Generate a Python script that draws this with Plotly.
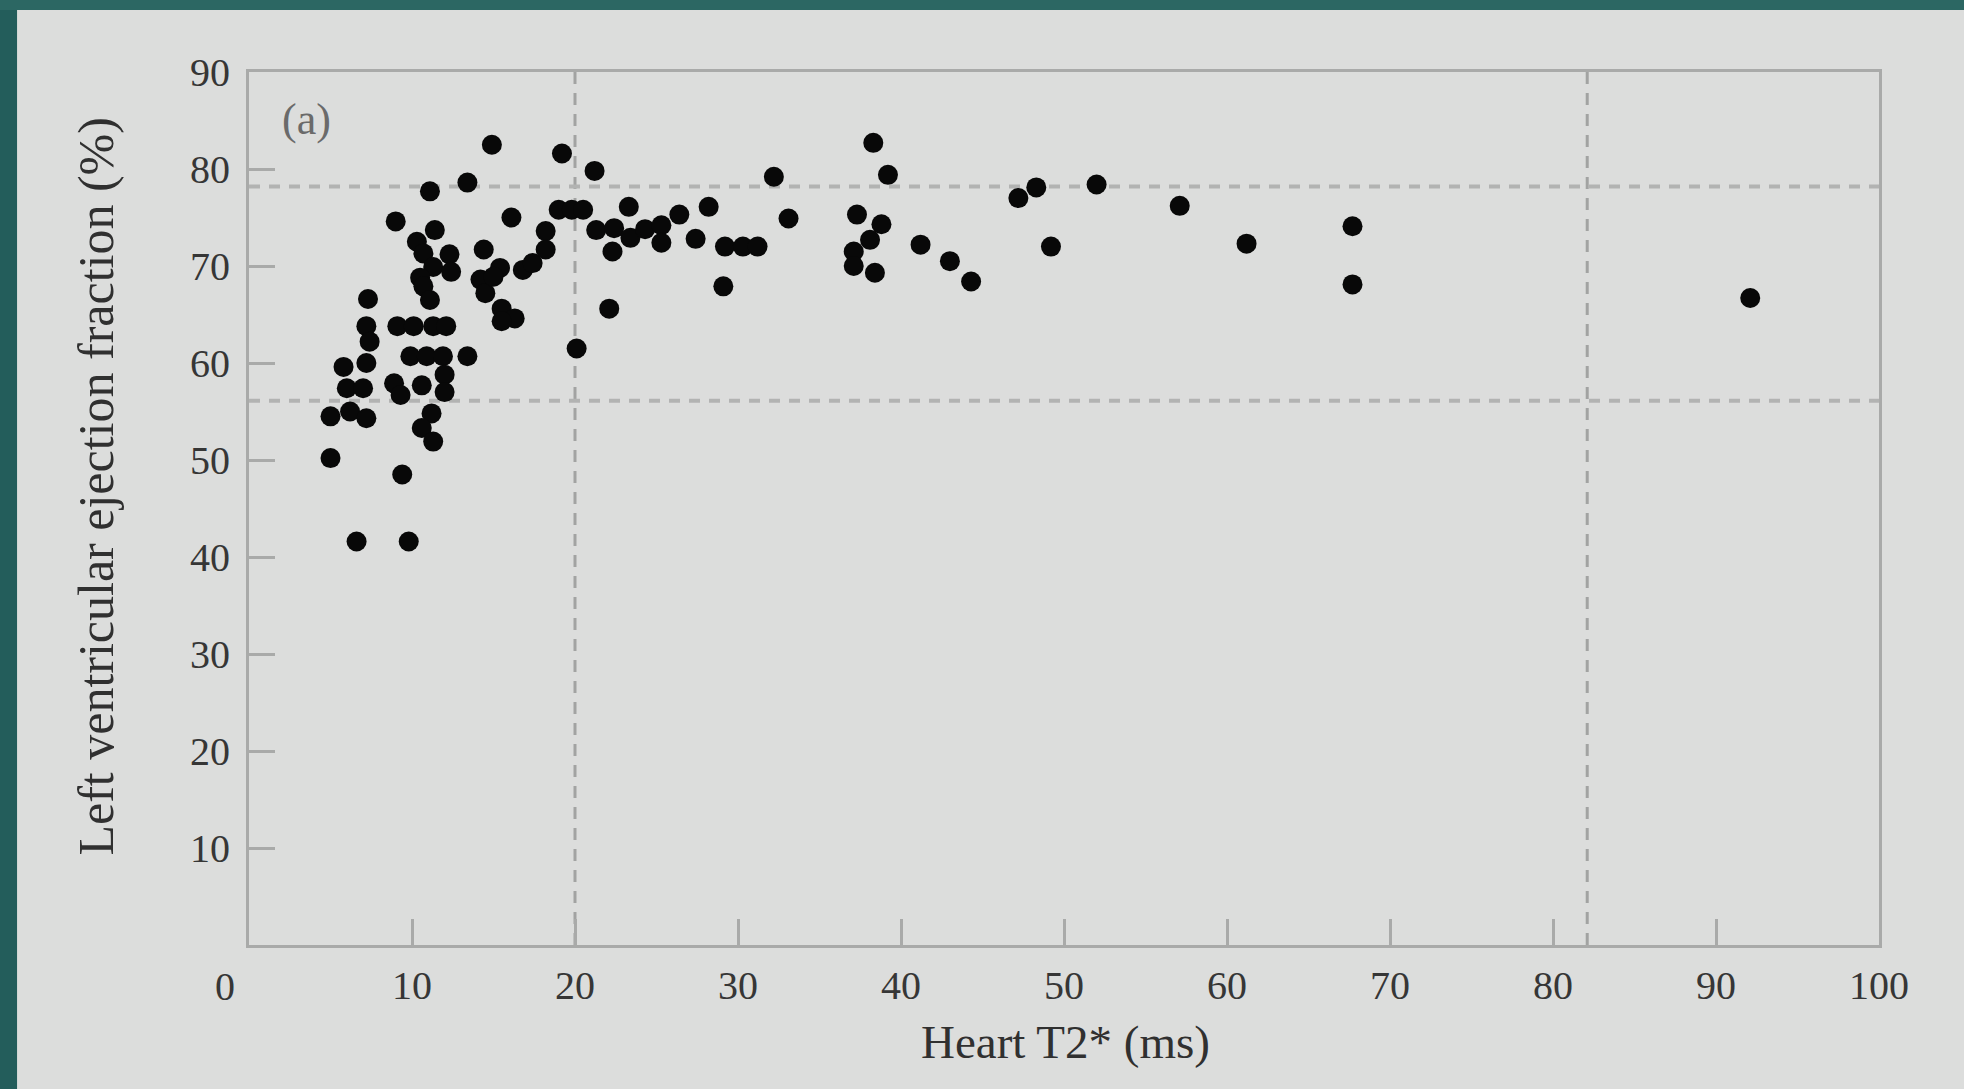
import plotly.graph_objects as go

# Heart T2* (ms) and LVEF (%)
t2_ms = [
    14.9, 19.2, 21.2, 13.4, 11.1, 9.0, 11.4, 16.1, 19.0, 19.8, 20.5, 23.3,
    18.2, 21.3, 22.4, 23.4, 24.3, 25.3, 25.3, 22.3, 26.4, 27.4, 28.2, 29.2,
    30.3, 31.2, 29.1, 22.1, 20.1, 32.2, 33.1, 38.3, 39.2, 37.3, 38.8, 38.1,
    37.1, 37.1, 38.4, 41.2, 43.0, 44.3, 47.2, 48.3, 49.2, 52.0, 57.1, 61.2,
    67.7, 67.7, 92.1,
    10.3, 10.7, 12.3, 14.4, 11.3, 12.4, 10.5, 15.4, 14.2, 14.5, 15.0, 16.8,
    17.4, 18.2, 10.7, 11.1, 7.3, 15.5, 16.3, 15.5, 7.2, 9.1, 10.1, 11.3,
    12.1, 7.4, 9.9, 10.9, 11.9, 13.4, 7.2, 5.8, 12.0, 8.9, 10.6, 6.0, 7.0,
    9.3, 12.0, 5.0, 6.2, 7.2, 11.2, 10.6, 11.3, 5.0, 9.4, 6.6, 9.8,
]
lvef_pct = [
    82.5, 81.6, 79.8, 78.6, 77.7, 74.6, 73.7, 75.0, 75.8, 75.8, 75.8, 76.1,
    73.6, 73.7, 73.9, 72.9, 73.8, 74.2, 72.4, 71.5, 75.3, 72.8, 76.1, 72.0,
    72.0, 72.0, 67.9, 65.6, 61.5, 79.2, 74.9, 82.7, 79.4, 75.3, 74.3, 72.7,
    71.5, 70.0, 69.3, 72.2, 70.5, 68.4, 77.0, 78.1, 72.0, 78.4, 76.2, 72.3,
    74.1, 68.1, 66.7,
    72.5, 71.3, 71.2, 71.7, 69.9, 69.4, 68.8, 69.8, 68.6, 67.2, 68.9, 69.6,
    70.3, 71.7, 67.9, 66.5, 66.6, 65.6, 64.6, 64.3, 63.8, 63.8, 63.8, 63.8,
    63.8, 62.2, 60.7, 60.7, 60.7, 60.7, 60.0, 59.6, 58.8, 57.9, 57.7, 57.4,
    57.4, 56.7, 57.0, 54.5, 55.0, 54.3, 54.8, 53.3, 51.9, 50.2, 48.5, 41.6,
    41.6,
]

# reference lines
ref_x = [20, 82.1]
ref_y = [56.1, 78.2]

x_ticks = [0, 10, 20, 30, 40, 50, 60, 70, 80, 90, 100]
x_tick_text = ["", "10", "20", "30", "40", "50", "60", "70", "80", "90", "100"]
y_ticks = [0, 10, 20, 30, 40, 50, 60, 70, 80, 90]
y_tick_text = ["", "10", "20", "30", "40", "50", "60", "70", "80", "90"]

FONT = "Liberation Serif"
PANEL = "#dcdddc"
TEAL = "#235d5b"
LINE = "#a9aaa9"
TXT = "#363636"

fig = go.Figure()

for xv in ref_x:
    fig.add_trace(go.Scatter(x=[xv, xv], y=[0, 90], mode="lines",
                             line=dict(color="#a2a3a2", width=3, dash="12px,9px"),
                             hoverinfo="skip", showlegend=False))
for yv in ref_y:
    fig.add_trace(go.Scatter(x=[0, 100], y=[yv, yv], mode="lines",
                             line=dict(color="#b2b3b2", width=4, dash="11px,9px"),
                             hoverinfo="skip", showlegend=False))

fig.add_trace(go.Scatter(
    x=t2_ms, y=lvef_pct, mode="markers",
    marker=dict(color="#080808", size=20, line=dict(width=0)),
    showlegend=False,
))

axis_common = dict(
    showgrid=False, zeroline=False,
    showline=True, mirror=True, linecolor=LINE, linewidth=3,
    ticks="inside", ticklen=26, tickwidth=3, tickcolor=LINE,
    tickfont=dict(family=FONT, size=40, color=TXT),
)

fig.update_layout(
    width=1964, height=1089,
    margin=dict(l=249, r=85, t=72, b=144),
    paper_bgcolor=PANEL, plot_bgcolor=PANEL,
    xaxis=dict(range=[0, 100], tickvals=x_ticks, ticktext=x_tick_text,
               ticklabelstandoff=3, **axis_common),
    yaxis=dict(range=[0, 90], tickvals=y_ticks, ticktext=y_tick_text,
               ticklabelstandoff=8, **axis_common),
    shapes=[
        dict(type="rect", xref="paper", yref="paper",
             x0=-0.16, x1=-0.1423, y0=-0.2, y1=1.1, fillcolor=TEAL,
             line=dict(width=0), layer="below"),
        dict(type="rect", xref="paper", yref="paper",
             x0=-0.16, x1=1.06, y0=1.0710, y1=1.1, fillcolor="#2c6763",
             line=dict(width=0), layer="below"),
    ],
    annotations=[
        dict(text="0", xref="paper", yref="paper", x=-0.015, y=-0.0475,
             showarrow=False, font=dict(family=FONT, size=40, color=TXT),
             xanchor="center", yanchor="middle"),
        dict(text="(a)", xref="x", yref="y", x=3.5, y=85.1,
             showarrow=False, font=dict(family=FONT, size=44, color="#6a6a6a"),
             xanchor="center", yanchor="middle"),
        dict(text="Heart T2* (ms)", xref="paper", yref="paper", x=0.501, y=-0.111,
             showarrow=False, font=dict(family=FONT, size=47, color="#303030"),
             xanchor="center", yanchor="middle"),
        dict(text="Left ventricular ejection fraction (%)", xref="paper",
             yref="paper", x=-0.094, y=0.526, textangle=-90,
             showarrow=False, font=dict(family=FONT, size=50, color="#303030"),
             xanchor="center", yanchor="middle"),
    ],
)

fig.write_html(
    "out.html",
    config={"displayModeBar": False},
    post_script="document.body.style.margin='0';document.body.style.overflow='hidden';",
)
